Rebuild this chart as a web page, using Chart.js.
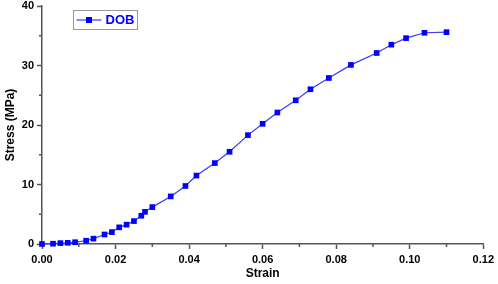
<!DOCTYPE html>
<html>
<head>
<meta charset="utf-8">
<script src="https://cdn.jsdelivr.net/npm/chart.js@4/dist/chart.umd.min.js"></script>
<style>
  html, body { margin: 0; padding: 0; background: #fff; }
  #wrap { width: 498px; height: 284px; }
</style>
</head>
<body>
<div id="wrap"><canvas id="chart" width="498" height="284"></canvas></div>
<script>
const seriesName = 'DOB';
const strain = [0.000, 0.003, 0.005, 0.007, 0.009, 0.012, 0.014, 0.017, 0.019, 0.021,
  0.023, 0.025, 0.027, 0.028, 0.030, 0.035, 0.039, 0.042, 0.047, 0.051,
  0.056, 0.060, 0.064, 0.069, 0.073, 0.078, 0.084, 0.091, 0.095, 0.099,
  0.104, 0.110];
const stress = [0, 0.05, 0.15, 0.2, 0.3, 0.55, 0.9, 1.6, 2.0, 2.8,
  3.25, 3.85, 4.75, 5.4, 6.2, 8.0, 9.75, 11.5, 13.6, 15.5,
  18.3, 20.2, 22.1, 24.15, 26.0, 27.9, 30.1, 32.1, 33.5, 34.6,
  35.5, 35.6];
const xTicks = [0, 0.02, 0.04, 0.06, 0.08, 0.10, 0.12];
const yTicks = [0, 10, 20, 30, 40];

const FONT = 'Arial, "Liberation Sans", sans-serif';
const AXIS = '#555';

// small ticks halfway between the labelled ones
const minorTicks = {
  id: 'minorTicks',
  afterDraw(chart) {
    const ctx = chart.ctx;
    const xs = chart.scales.x, ys = chart.scales.y;
    ctx.save();
    ctx.strokeStyle = AXIS;
    ctx.lineWidth = 1.5;
    ctx.beginPath();
    for (let i = 0; i < xTicks.length - 1; i++) {
      const px = xs.getPixelForValue((xTicks[i] + xTicks[i + 1]) / 2);
      ctx.moveTo(px, xs.top);
      ctx.lineTo(px, xs.top + 3);
    }
    for (let i = 0; i < yTicks.length - 1; i++) {
      const py = ys.getPixelForValue((yTicks[i] + yTicks[i + 1]) / 2);
      ctx.moveTo(ys.right, py);
      ctx.lineTo(ys.right - 3, py);
    }
    ctx.stroke();
    ctx.restore();
  }
};

// boxed legend in the upper left of the plot
const boxLegend = {
  id: 'boxLegend',
  afterDraw(chart) {
    const ctx = chart.ctx;
    const x0 = 73.5, y0 = 10.5, w = 64, h = 19;
    const cy = y0 + h / 2;
    ctx.save();
    ctx.strokeStyle = '#999';
    ctx.lineWidth = 1;
    ctx.strokeRect(x0, y0, w, h);
    ctx.strokeStyle = '#3a3aff';
    ctx.lineWidth = 1.2;
    ctx.beginPath();
    ctx.moveTo(x0 + 3, cy);
    ctx.lineTo(x0 + 28, cy);
    ctx.stroke();
    ctx.fillStyle = '#0000ff';
    ctx.fillRect(x0 + 12.5, cy - 3, 6, 6);
    ctx.font = 'bold 13px ' + FONT;
    ctx.textBaseline = 'middle';
    ctx.fillText(seriesName, x0 + 32, cy + 0.5);
    ctx.restore();
  }
};

new Chart(document.getElementById('chart'), {
  type: 'line',
  data: {
    datasets: [{
      label: seriesName,
      data: strain.map((s, i) => ({ x: s, y: stress[i] })),
      borderColor: '#3a3aff',
      borderWidth: 1.2,
      backgroundColor: '#0000ff',
      pointStyle: 'rect',
      pointRadius: 4,
      pointBorderWidth: 0,
      pointBackgroundColor: '#0000ff',
      tension: 0,
      clip: false
    }]
  },
  options: {
    responsive: false,
    animation: false,
    layout: { padding: { top: 6, right: 12, left: 0, bottom: 0 } },
    plugins: {
      legend: { display: false },
      tooltip: { enabled: false }
    },
    scales: {
      x: {
        type: 'linear',
        min: 0,
        max: 0.12,
        afterFit: s => { s.height = 40; },
        afterBuildTicks: s => { s.ticks = xTicks.map(v => ({ value: v })); },
        border: { color: AXIS, width: 1.5 },
        grid: { drawOnChartArea: false, drawTicks: true, tickLength: 5, tickColor: AXIS, tickWidth: 1.5 },
        ticks: {
          color: '#000',
          padding: 4,
          maxRotation: 0,
          font: { family: FONT, size: 11, weight: 'bold' },
          callback: v => v.toFixed(2)
        },
        title: {
          display: true,
          text: 'Strain',
          color: '#000',
          padding: { top: 0, bottom: 3 },
          font: { family: FONT, size: 12, weight: 'bold' }
        }
      },
      y: {
        min: 0,
        max: 40,
        afterFit: s => { s.width = 42; s.paddingTop = 0; s.paddingBottom = 0; },
        afterBuildTicks: s => { s.ticks = yTicks.map(v => ({ value: v })); },
        border: { color: AXIS, width: 1.5 },
        grid: { drawOnChartArea: false, drawTicks: true, tickLength: 5, tickColor: AXIS, tickWidth: 1.5 },
        ticks: {
          color: '#000',
          padding: 3,
          font: { family: FONT, size: 11, weight: 'bold' }
        },
        title: {
          display: true,
          text: 'Stress (MPa)',
          color: '#000',
          padding: { top: 3, bottom: 0 },
          font: { family: FONT, size: 12, weight: 'bold' }
        }
      }
    }
  },
  plugins: [minorTicks, boxLegend]
});
</script>
</body>
</html>
